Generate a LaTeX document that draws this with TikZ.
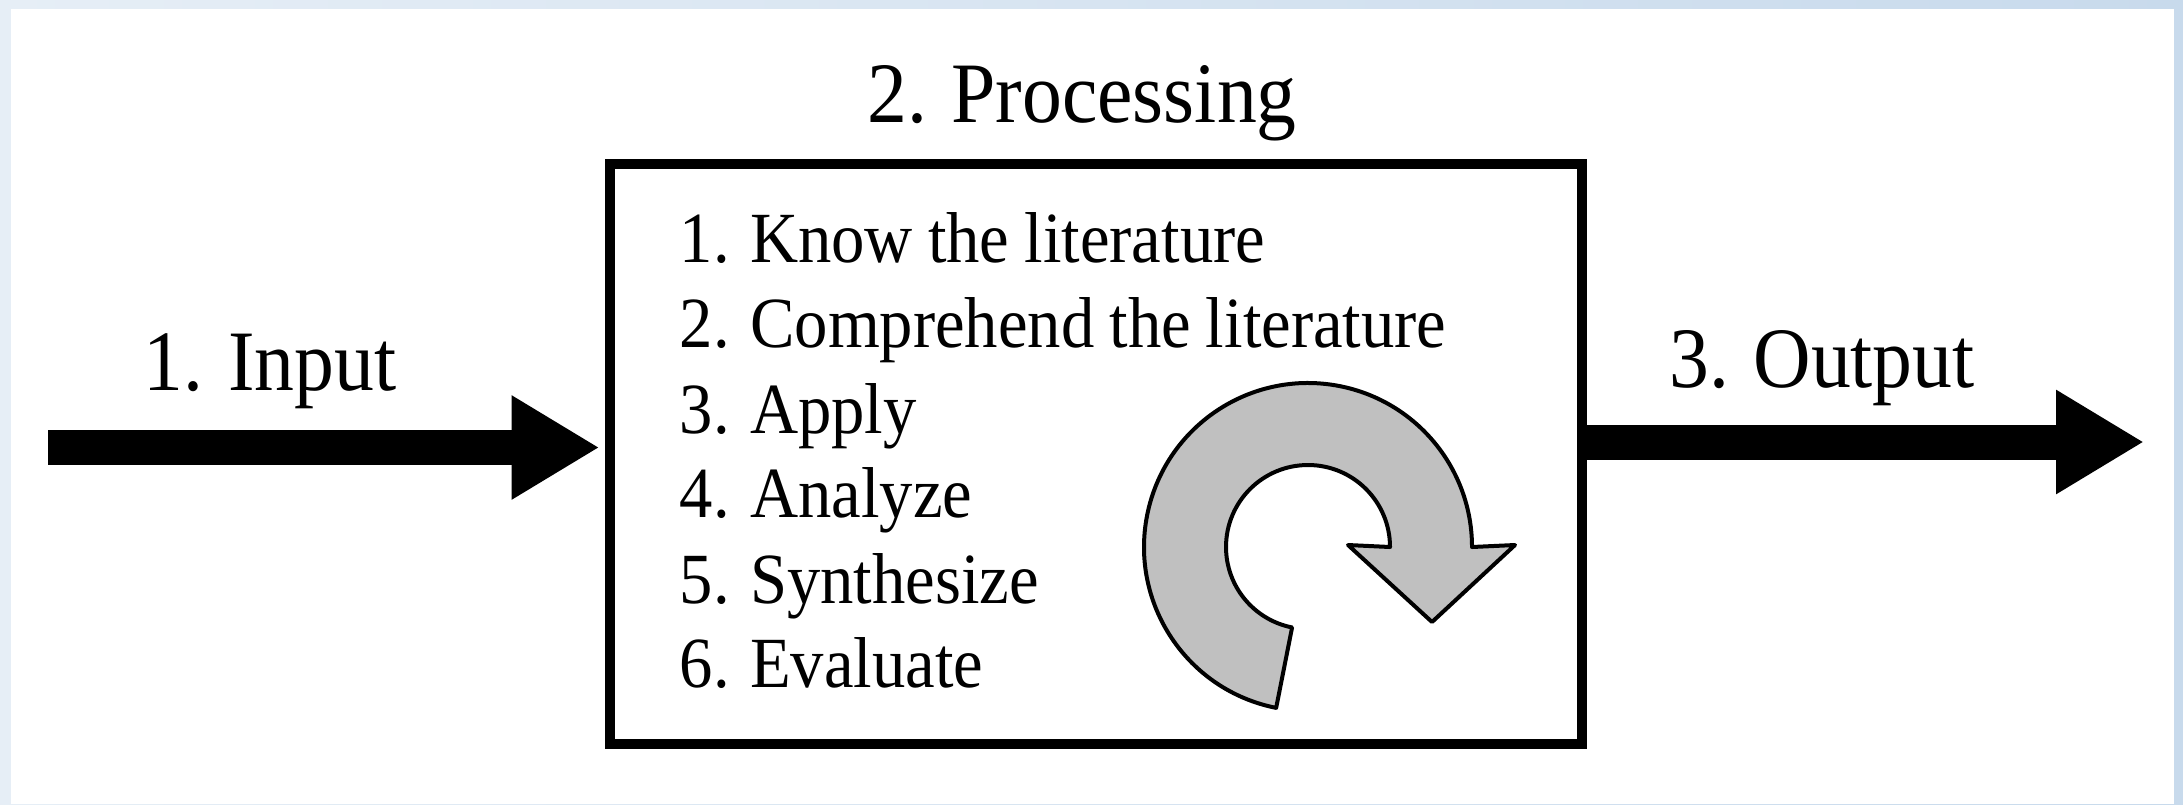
\documentclass[tikz,border=0pt]{standalone}
\usepackage{fontspec}
\setmainfont{Liberation Serif}[FakeStretch=0.925,WordSpace=0.9]
\usetikzlibrary{arrows.meta,calc}
\definecolor{frameL}{RGB}{230,238,246}
\definecolor{frameR}{RGB}{200,218,236}
\definecolor{cyclegray}{RGB}{192,192,192}
\tikzset{
  labeltext/.style={font=\fontsize{24.5pt}{28pt}\selectfont, inner sep=0pt, anchor=base},
  listtext/.style={font=\fontsize{20.5pt}{24pt}\selectfont, inner sep=0pt, anchor=base west},
  procbox/.style={draw=black, line width=0.1cm, fill=white, inner sep=0pt,
    minimum width=9.72cm, minimum height=5.80cm},
  bigarrow/.style={line width=0.35cm, -{Triangle[width=0.98cm,length=0.88cm]}},
  cyclearrow/.style={fill=cyclegray, draw=black, line width=0.04cm, line join=round}
}
\begin{document}
\begin{tikzpicture}
\useasboundingbox (0,0) rectangle (21.83,8.04);
% frame
\fill[left color=frameL, right color=frameR] (0,0) rectangle (21.83,8.04);
\fill[white] (0.11,0) rectangle (21.74,7.95);

% processing box
\node[procbox] (proc) at (10.955,3.505) {};
\node[labeltext] (proctitle) at (10.82,6.82) {2. Processing};

% list
\node[listtext] (l1) at (6.79,5.42) {1. Know the literature};
\node[listtext] (l2) at (6.79,4.57) {2. Comprehend the literature};
\node[listtext] (l3) at (6.79,3.71) {3. Apply};
\node[listtext] (l4) at (6.79,2.87) {4. Analyze};
\node[listtext] (l5) at (6.79,2.01) {5. Synthesize};
\node[listtext] (l6) at (6.79,1.17) {6. Evaluate};

% input arrow
\coordinate (inS) at (0.48,3.565);
\coordinate (inT) at ([xshift=-0.05cm]proc.west |- inS);
\draw[bigarrow] (inS) -- (inT);
\node[labeltext] (inlabel) at (2.70,4.14) {1. Input};

% output arrow
\coordinate (outS) at (proc.east |- 0,3.62);
\coordinate (outT) at (21.44,3.62);
\draw[bigarrow] (outS) -- (outT);
\node[labeltext] (outlabel) at (18.22,4.17) {3. Output};

% cycle arrow
\coordinate (cc) at (13.08,2.57);
\path[cyclearrow] ($(cc)+(258.8:1.64)$) arc[start angle=258.8, end angle=0, radius=1.64cm]
  -- (15.15,2.59) -- (14.32,1.82) -- (13.48,2.59)
  -- ($(cc)+(0.82,0)$) arc[start angle=0, end angle=258.8, radius=0.82cm] -- cycle;
\end{tikzpicture}
\end{document}
